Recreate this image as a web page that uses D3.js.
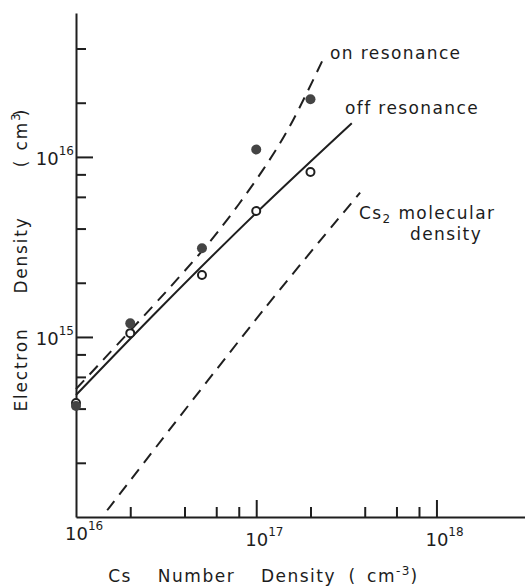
<!DOCTYPE html>
<html><head><meta charset="utf-8">
<script src="https://cdn.jsdelivr.net/npm/d3@7"></script>
<style>
body{margin:0;background:#fff}
svg{display:block}
text{font-family:"DejaVu Sans",sans-serif;fill:#1c1c1c}
</style>
</head><body>
<svg id="c" width="525" height="588"></svg>
<script>
// ---- data ----
const csDensity      = [1e16, 2e16, 5e16, 1e17, 2e17];
const onResonance    = [4.14e14, 1.19e15, 3.11e15, 1.10e16, 2.09e16];
const offResonance   = [4.3e14, 1.05e15, 2.21e15, 5.01e15, 8.25e15];

const onCurveX  = [1e16, 3.69e16, 6.14e16, 1.09e17, 1.53e17, 2.34e17];
const onCurveY  = [5.14e14, 2.12e15, 3.85e15, 8.47e15, 1.47e16, 3.46e16];
const offCurveX = [1e16, 2.92e16, 1.0e17, 3.39e17];
const offCurveY = [4.76e14, 1.44e15, 4.89e15, 1.54e16];
const cs2X      = [1.49e16, 1.095e17, 3.77e17];
const cs2Y      = [1.09e14, 1.41e15, 6.33e15];

const xMajorTicks = [1e17, 1e18];
const xMinorTicks = [2e16, 4e16, 6e16, 8e16, 2e17, 4e17, 6e17, 8e17];
const yMajorTicks = [1e15, 1e16];
const yMinorTicks = [2e14, 4e14, 6e14, 8e14, 2e15, 4e15, 6e15, 8e15, 2e16, 4e16];
const xLabelTicks = [1e16, 1e17, 1e18];
const xLabelExp   = ["16", "17", "18"];
const yLabelTicks = [1e15, 1e16];
const yLabelExp   = ["15", "16"];

// ---- drawing ----
const ink = "#1f1f1f";
const svg = d3.select("#c");
const x = d3.scaleLog().domain([1e16, 3.1e18]).range([76, 525]);
const y = d3.scaleLog().domain([1e14, 6.3e16]).range([517, 13]);

function styleAxis(g){
  g.selectAll("line,path").attr("stroke", ink).attr("stroke-width", 2);
}
// y axis (ticks pointing inward)
svg.append("g").attr("transform","translate(76,0)")
  .call(d3.axisRight(y).tickValues(yMinorTicks).tickSize(10).tickSizeOuter(0).tickFormat(""))
  .call(styleAxis);
svg.append("g").attr("transform","translate(76,0)")
  .call(d3.axisRight(y).tickValues(yMajorTicks).tickSize(17).tickSizeOuter(0).tickFormat(""))
  .call(g=>g.select(".domain").remove()).call(styleAxis);
// x axis
svg.append("g").attr("transform","translate(0,517)")
  .call(d3.axisTop(x).tickValues(xMinorTicks).tickSize(10).tickSizeOuter(0).tickFormat(""))
  .call(styleAxis);
svg.append("g").attr("transform","translate(0,517)")
  .call(d3.axisTop(x).tickValues(xMajorTicks).tickSize(17).tickSizeOuter(0).tickFormat(""))
  .call(g=>g.select(".domain").remove()).call(styleAxis);

// tick labels
yLabelTicks.forEach((v,i)=>{
  const t = svg.append("text").attr("x",74).attr("y",y(v)+8.5).attr("text-anchor","end");
  t.append("tspan").attr("font-size",18).text("10");
  t.append("tspan").attr("font-size",12).attr("dy",-10).text(yLabelExp[i]);
});
xLabelTicks.forEach((v,i)=>{
  const t = svg.append("text").attr("x",x(v)-11).attr("y", i===0 ? 540 : 546);
  t.append("tspan").attr("font-size",18).text("10");
  t.append("tspan").attr("font-size",12).attr("dy",-10).text(xLabelExp[i]);
});

// lines
const line = d3.line().x(d=>x(d[0])).y(d=>y(d[1])).curve(d3.curveCatmullRom);
svg.append("path").datum(d3.zip(onCurveX,onCurveY)).attr("d",line)
  .attr("fill","none").attr("stroke",ink).attr("stroke-width",2).attr("stroke-dasharray","12,8");
svg.append("path").datum(d3.zip(offCurveX,offCurveY)).attr("d",line)
  .attr("fill","none").attr("stroke",ink).attr("stroke-width",2);
svg.append("path").datum(d3.zip(cs2X,cs2Y)).attr("d",line)
  .attr("fill","none").attr("stroke",ink).attr("stroke-width",2).attr("stroke-dasharray","12,8");

// points
svg.append("g").selectAll("circle").data(d3.zip(csDensity,offResonance)).join("circle")
  .attr("cx",d=>x(d[0])).attr("cy",d=>y(d[1])).attr("r",4)
  .attr("fill","#fff").attr("stroke",ink).attr("stroke-width",2);
svg.append("g").selectAll("circle").data(d3.zip(csDensity,onResonance)).join("circle")
  .attr("cx",d=>x(d[0])).attr("cy",d=>y(d[1])).attr("r",5)
  .attr("fill","#444");

// line labels
const lab = {"font-size":17, "letter-spacing":"1.4px"};
function label(xp, yp){
  const t = svg.append("text").attr("x",xp).attr("y",yp);
  Object.entries(lab).forEach(([k,v])=>t.attr(k,v));
  return t;
}
label(330,59).text("on resonance");
label(345,114).text("off resonance");
const cs = label(359,219);
cs.append("tspan").text("Cs");
cs.append("tspan").attr("font-size",12).attr("dy",4).text("2");
cs.append("tspan").attr("dy",-4).text(" molecular");
label(410,240).text("density");

// y title (rotated pieces)
const yTitle = [["Electron",369.5,""],["Density",255,""],["(",163,""],["cm",131,"3"],[")",112,""]];
yTitle.forEach(([s,c,sup])=>{
  const t = svg.append("text").attr("transform",`translate(27,${c}) rotate(-90)`)
    .attr("text-anchor","middle").attr("font-size",17).attr("letter-spacing","1.8px");
  t.append("tspan").text(s);
  if(sup) t.append("tspan").attr("font-size",12).attr("dy",-7).text(sup);
});
// x title pieces
const xTitle = [["Cs",120,""],["Number",196.5,""],["Density",298.5,""],["(",352.5,""],["cm",389,"-3"],[")",414.5,""]];
xTitle.forEach(([s,c,sup])=>{
  const t = svg.append("text").attr("x",c).attr("y",582)
    .attr("text-anchor","middle").attr("font-size",17).attr("letter-spacing","1.5px");
  t.append("tspan").text(s);
  if(sup) t.append("tspan").attr("font-size",12).attr("dy",-7).text(sup);
});
</script>
</body></html>
